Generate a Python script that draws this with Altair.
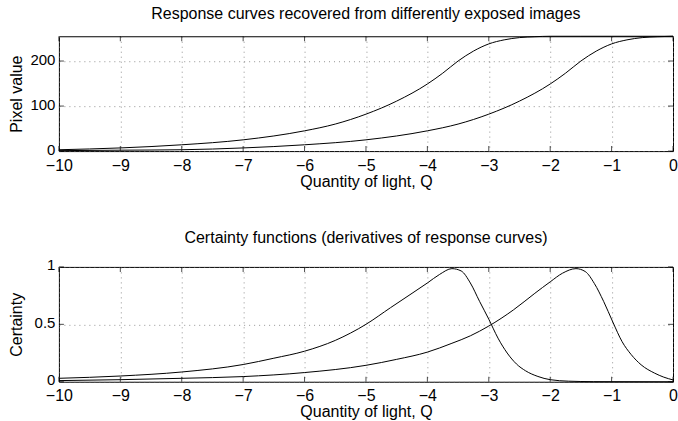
import altair as alt
import pandas as pd

# Response curves (pixel value vs quantity of light)
resp_a_q = [-10, -9, -8, -7, -6, -5.5, -5, -4.5, -4, -3.75, -3.5, -3.25, -3, -2.75, -2.5, -2.25, -2, -1.5, -1, 0]
resp_a_v = [3, 7, 14, 25, 45, 60, 82, 111, 149, 173, 200, 222, 238, 247, 252, 254, 255, 255, 255, 255]
resp_b_q = [-10, -9, -8, -7, -6, -5, -4, -3.5, -3, -2.5, -2, -1.75, -1.5, -1.25, -1, -0.75, -0.5, -0.25, 0]
resp_b_v = [1, 2, 3, 7, 14, 25, 45, 60, 82, 111, 149, 173, 200, 222, 238, 247, 252, 254, 255]

# Certainty functions
cert_a_q = [-10, -9, -8, -7, -6.5, -6, -5.5, -5, -4.6, -4.25, -4, -3.8, -3.6, -3.45, -3.3, -3.15, -3, -2.85, -2.7, -2.55, -2.4, -2.2, -2, -1.7, -1.3, 0]
cert_a_v = [0.03, 0.05, 0.085, 0.15, 0.205, 0.266, 0.36, 0.50, 0.645, 0.77, 0.86, 0.935, 0.985, 0.965, 0.86, 0.70, 0.545, 0.38, 0.25, 0.155, 0.095, 0.046, 0.018, 0.005, 0.001, 0.0]
cert_b_q = [-10, -9, -8, -7, -6, -5, -4.5, -4, -3.6, -3.3, -3, -2.6, -2.25, -2, -1.8, -1.58, -1.43, -1.28, -1.13, -0.98, -0.83, -0.68, -0.52, -0.3, -0.15, 0]
cert_b_v = [0.01, 0.018, 0.03, 0.045, 0.08, 0.143, 0.195, 0.258, 0.335, 0.40, 0.485, 0.625, 0.77, 0.87, 0.945, 0.985, 0.96, 0.855, 0.70, 0.52, 0.35, 0.236, 0.148, 0.075, 0.04, 0.016]

x_ticks = [-10, -9, -8, -7, -6, -5, -4, -3, -2, -1, 0]
top_y_ticks = [0, 100, 200]
bot_y_ticks = [0, 0.5, 1]

resp = pd.DataFrame(
    {"Q": resp_a_q + resp_b_q,
     "v": resp_a_v + resp_b_v,
     "s": ["a"] * len(resp_a_q) + ["b"] * len(resp_b_q)}
)
cert = pd.DataFrame(
    {"Q": cert_a_q + cert_b_q,
     "v": cert_a_v + cert_b_v,
     "s": ["a"] * len(cert_a_q) + ["b"] * len(cert_b_q)}
)

W, H = 615, 115
FONT = "Liberation Sans"
FS = 16


def panel(df, ydom, yticks, ytitle, title, yfmt):
    xs = alt.Scale(domain=[-10, 0], nice=False, zero=False)
    ys = alt.Scale(domain=ydom, nice=False, zero=False)
    xaxis = alt.Axis(values=x_ticks, format="d", grid=True, gridColor="#777",
                     gridDash=[1, 4], gridWidth=0.8, ticks=False, domain=False,
                     labelFlush=False, labelOverlap=False,
                     labelPadding=6, labelFontSize=FS, labelColor="black",
                     title="Quantity of light, Q", titleFontSize=FS,
                     titleFontWeight="normal", titleColor="black", titlePadding=0,
                     labelFont=FONT, titleFont=FONT)
    yaxis = alt.Axis(values=yticks, format=yfmt, grid=True, gridColor="#777",
                     gridDash=[1, 4], gridWidth=0.8, ticks=False, domain=False,
                     labelFlush=False, labelOverlap=False, labelOffset=-2,
                     labelPadding=4, labelFontSize=15, labelColor="black",
                     title=ytitle, titleFontSize=FS, titleFontWeight="normal",
                     titleColor="black", titlePadding=4, minExtent=30, maxExtent=30,
                     labelFont=FONT, titleFont=FONT)
    lines = alt.Chart(df).mark_line(color="black", strokeWidth=1, interpolate="monotone").encode(
        x=alt.X("Q:Q", scale=xs, axis=xaxis),
        y=alt.Y("v:Q", scale=ys, axis=yaxis),
        detail="s:N",
    )
    xt = pd.DataFrame({"Q": x_ticks})
    yt = pd.DataFrame({"v": yticks})
    tb = alt.Chart(xt).mark_tick(color="black", size=5, thickness=1, orient="vertical").encode(
        x=alt.X("Q:Q", scale=xs), y=alt.value(H - 2.5))
    tt = alt.Chart(xt).mark_tick(color="black", size=5, thickness=1, orient="vertical").encode(
        x=alt.X("Q:Q", scale=xs), y=alt.value(2.5))
    tl = alt.Chart(yt).mark_tick(color="black", size=5, thickness=1, orient="horizontal").encode(
        y=alt.Y("v:Q", scale=ys), x=alt.value(2.5))
    tr = alt.Chart(yt).mark_tick(color="black", size=5, thickness=1, orient="horizontal").encode(
        y=alt.Y("v:Q", scale=ys), x=alt.value(W - 2.5))
    return alt.layer(lines, tb, tt, tl, tr).properties(
        width=W, height=H,
        title=alt.TitleParams(title, fontSize=FS, fontWeight="normal", font=FONT,
                              color="black", offset=12),
    )


top = panel(resp, [0, 255], top_y_ticks, "Pixel value", "Response curves recovered from differently exposed images", "d")
bot = panel(cert, [0, 1], bot_y_ticks, "Certainty", "Certainty functions (derivatives of response curves)", "")

chart = alt.vconcat(top, bot, spacing=39).properties(
    padding={"left": 8, "top": 5, "right": 0, "bottom": 0},
    background="white",
).configure_view(stroke="black", strokeWidth=1).configure_concat(spacing=39)

chart.save("out.html", embed_options={"renderer": "svg", "actions": False})
